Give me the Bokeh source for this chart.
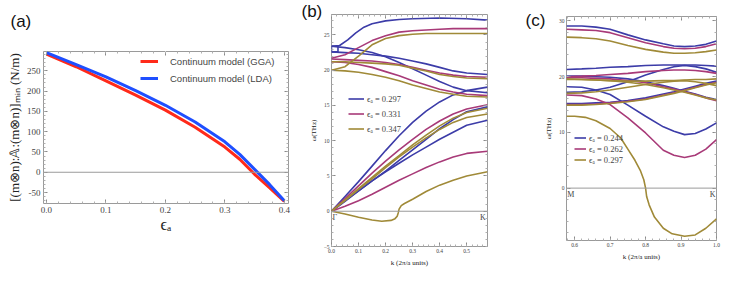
from bokeh.plotting import figure
from bokeh.models import (Range1d, LinearAxis, Label, Legend, LegendItem, Span, Title,
                          SingleIntervalTicker, FixedTicker, CustomJSTickFormatter,
                          NumeralTickFormatter)
from bokeh.layouts import row
from bokeh.embed import file_html
from bokeh.resources import INLINE

SERIF = "Liberation Serif"
SANS = "Liberation Sans"

# ---------------- panel (a) data ----------------
eps_a = [0.0, 0.05, 0.1, 0.15, 0.2, 0.25, 0.3, 0.325, 0.35, 0.375, 0.4]
gga = [291, 260, 225, 190, 153, 111, 62, 32, -5, -38, -72]
lda = [295, 265, 235, 201, 165, 124, 75, 44, 7, -30, -70]

# ---------------- panel (b) data (Gamma -> K) ----------------
kb = [0.0, 0.05, 0.1, 0.15, 0.2, 0.25, 0.3, 0.35, 0.4, 0.45, 0.5, 0.577]
kb_top = [0.0, 0.03, 0.06, 0.09, 0.12, 0.15, 0.2, 0.25, 0.3, 0.4, 0.5, 0.577]
b_blue_top = [23.4, 23.5, 24.3, 25.3, 26.1, 26.6, 27.0, 27.2, 27.3, 27.4, 27.3, 27.1]
b_box_k = [0.0, 0.024, 0.024, 0.0, 0.0]
b_box_w = [23.4, 23.4, 22.6, 22.6, 23.4]
b_blue = [
    [23.4, 23.2, 22.9, 22.5, 21.9, 21.1, 20.2, 19.3, 18.4, 17.6, 17.1, 16.8],
    [22.6, 22.5, 22.4, 22.2, 22.0, 21.7, 21.3, 20.9, 20.4, 19.9, 19.6, 19.4],
    [0.0, 2.1, 4.2, 6.4, 8.6, 10.7, 12.6, 14.2, 15.5, 16.5, 17.1, 17.6],
    [0.0, 1.4, 2.9, 4.3, 5.7, 7.2, 8.7, 10.2, 11.7, 13.0, 14.1, 14.8],
    [0.0, 1.5, 2.9, 4.3, 5.6, 6.8, 8.0, 9.1, 10.2, 11.2, 12.2, 12.9],
]
b_pink = [
    [21.7, 22.2, 23.2, 24.2, 24.9, 25.4, 25.6, 25.7, 25.8, 25.9, 25.9, 25.9],
    [21.6, 21.5, 21.4, 21.3, 21.1, 20.8, 20.4, 20.0, 19.6, 19.3, 19.1, 19.0],
    [21.2, 21.1, 20.8, 20.4, 19.8, 19.2, 18.5, 17.9, 17.3, 16.9, 16.6, 16.4],
    [0.0, 1.8, 3.6, 5.4, 7.1, 8.7, 10.2, 11.6, 12.8, 13.8, 14.5, 15.1],
    [0.0, 0.7, 1.5, 2.4, 3.4, 4.4, 5.3, 6.2, 7.0, 7.7, 8.2, 8.5],
]
b_olive = [
    [20.0, 20.5, 22.0, 23.6, 24.5, 24.9, 25.1, 25.2, 25.2, 25.2, 25.2, 25.2],
    [21.2, 21.2, 21.1, 21.0, 20.9, 20.7, 20.3, 19.9, 19.4, 19.1, 18.9, 18.8],
    [20.0, 19.9, 19.7, 19.4, 19.0, 18.5, 17.9, 17.4, 16.9, 16.6, 16.3, 16.2],
    [0.0, 1.6, 3.2, 4.8, 6.4, 7.9, 9.4, 10.8, 12.1, 13.2, 14.0, 14.6],
    [0.0, 1.5, 3.1, 4.6, 6.2, 7.7, 9.1, 10.4, 11.6, 12.6, 13.3, 13.8],
]
kb_soft = [0.0, 0.05, 0.1, 0.15, 0.186, 0.22, 0.235, 0.243, 0.247, 0.25, 0.258,
           0.27, 0.3, 0.35, 0.4, 0.45, 0.5, 0.55, 0.577]
b_olive_soft = [0.0, -0.4, -0.85, -1.25, -1.43, -1.3, -1.05, -0.7, -0.2, 0.3, 0.8,
                1.1, 1.7, 2.8, 3.7, 4.4, 5.0, 5.4, 5.6]
b_labels = ["ϵₐ = 0.297", "ϵₐ = 0.331", "ϵₐ = 0.347"]

# ---------------- panel (c) data (M -> K) ----------------
kc = [0.577, 0.62, 0.66, 0.7, 0.75, 0.8, 0.85, 0.88, 0.91, 0.94, 0.97, 1.0]
c_blue = [
    [29.1, 29.1, 28.9, 28.5, 27.5, 26.6, 25.9, 25.5, 25.4, 25.5, 25.8, 26.4],
    [21.3, 21.4, 21.5, 21.7, 21.8, 22.0, 22.1, 22.1, 22.1, 22.1, 22.0, 21.9],
    [17.2, 17.3, 17.6, 18.1, 19.1, 20.3, 21.3, 21.8, 22.0, 21.8, 21.4, 20.8],
    [18.2, 18.1, 17.6, 16.8, 14.9, 12.9, 11.0, 10.2, 9.6, 9.8, 10.6, 11.7],
    [20.1, 20.1, 20.0, 19.9, 19.6, 19.1, 18.4, 17.9, 17.4, 16.9, 16.3, 15.9],
    [15.2, 15.2, 15.3, 15.4, 15.7, 16.2, 16.9, 17.3, 17.8, 18.3, 18.8, 19.2],
]
c_pink = [
    [28.5, 28.4, 28.3, 27.9, 27.0, 26.1, 25.4, 25.1, 25.0, 25.1, 25.4, 25.9],
    [20.0, 20.1, 20.2, 20.4, 20.6, 20.9, 21.1, 21.2, 21.2, 21.1, 20.9, 20.6],
    [16.7, 16.6, 16.0, 15.0, 12.6, 9.9, 6.8, 5.9, 5.5, 5.9, 7.0, 8.7],
    [19.8, 19.8, 19.7, 19.6, 19.3, 18.9, 18.2, 17.8, 17.3, 16.8, 16.2, 15.7],
    [15.0, 15.0, 15.1, 15.3, 15.6, 16.0, 16.7, 17.1, 17.6, 18.1, 18.6, 19.0],
]
c_olive = [
    [27.1, 27.0, 26.8, 26.4, 25.6, 24.9, 24.4, 24.2, 24.2, 24.3, 24.5, 24.8],
    [19.6, 19.5, 19.4, 19.3, 19.2, 19.2, 19.3, 19.3, 19.4, 19.5, 19.5, 19.6],
    [17.0, 17.1, 17.3, 17.6, 18.1, 18.6, 19.0, 19.2, 19.3, 19.1, 18.8, 18.4],
    [19.5, 19.5, 19.4, 19.3, 19.0, 18.6, 18.0, 17.6, 17.2, 16.7, 16.2, 15.8],
    [14.9, 14.9, 15.0, 15.2, 15.5, 15.9, 16.6, 17.0, 17.5, 18.0, 18.5, 18.9],
]
kc_soft = [0.577, 0.6, 0.63, 0.66, 0.7, 0.73, 0.75, 0.77, 0.785, 0.795, 0.8, 0.803,
           0.81, 0.825, 0.85, 0.875, 0.91, 0.94, 0.97, 1.0]
c_olive_soft = [12.9, 12.9, 12.7, 12.1, 10.7, 9.0, 7.0, 5.0, 3.2, 1.5, 0.0, -1.5,
                -3.0, -5.2, -7.2, -8.2, -8.65, -8.4, -7.2, -5.5]
c_labels = ["ϵₐ = 0.244", "ϵₐ = 0.262", "ϵₐ = 0.297"]

RED, BLUE = "#ff2a1a", "#1f4fff"
C_BLUE, C_PINK, C_OLIVE = "#3c3ca8", "#a83a78", "#a08a38"
GRAY = "#9a9a9a"
H = 280


def make_fig(width, xr, yr, borders):
    l, r, t, b = borders
    p = figure(width=width, height=H, x_range=Range1d(*xr), y_range=Range1d(*yr),
               output_backend="svg", toolbar_location=None,
               min_border_left=l, min_border_right=r, min_border_top=t, min_border_bottom=b)
    p.frame_align = False
    p.grid.visible = False
    p.outline_line_color = GRAY
    p.outline_line_width = 1
    return p


def frame_ticks(p, xint, yint, nx, ny, fsize, standoff):
    xax = p.xaxis[0]
    yax = p.yaxis[0]
    xax.ticker = SingleIntervalTicker(interval=xint, num_minor_ticks=nx)
    yax.ticker = SingleIntervalTicker(interval=yint, num_minor_ticks=ny)
    xax.formatter = NumeralTickFormatter(format="0.0")
    right = LinearAxis(ticker=SingleIntervalTicker(interval=yint, num_minor_ticks=ny),
                       formatter=CustomJSTickFormatter(code="return ''"))
    above = LinearAxis(ticker=SingleIntervalTicker(interval=xint, num_minor_ticks=nx),
                       formatter=CustomJSTickFormatter(code="return ''"))
    p.add_layout(right, "right")
    p.add_layout(above, "above")
    for ax in [xax, yax, right, above]:
        ax.axis_line_color = None
        ax.major_tick_in = 4
        ax.major_tick_out = 0
        ax.minor_tick_in = 2
        ax.minor_tick_out = 0
        ax.major_tick_line_color = "#8a8a8a"
        ax.minor_tick_line_color = "#b0b0b0"
    for ax in [right, above]:
        ax.major_label_text_font_size = "0px"
        ax.major_label_standoff = 0
    for ax in [xax, yax]:
        ax.major_label_text_font = SERIF
        ax.major_label_text_font_size = fsize
        ax.major_label_text_color = "#444444"
        ax.major_label_standoff = standoff
        ax.axis_label_text_font = SERIF
        ax.axis_label_text_font_style = "normal"
        ax.axis_label_text_color = "#222222"
    return xax, yax


def top_spacer(p, gap, at):
    # invisible (white) outward tick that only reserves room above the frame
    sp = LinearAxis(ticker=FixedTicker(ticks=[at], minor_ticks=[]),
                    formatter=CustomJSTickFormatter(code="return ''"))
    sp.axis_line_color = None
    sp.major_tick_in = 0
    sp.major_tick_out = gap
    sp.major_tick_line_color = "#ffffff"
    sp.minor_tick_in = 0
    sp.minor_tick_out = 0
    sp.major_label_text_font_size = "0px"
    sp.major_label_standoff = 0
    p.add_layout(sp, "above")


def panel_tag(p, text, offset, standoff):
    p.add_layout(Title(text=text, align="left", offset=offset, standoff=standoff,
                       vertical_align="bottom", text_font=SANS, text_font_size="17px",
                       text_font_style="normal", text_color="#111111"), "above")


# ================= (a) =================
pa = make_fig(300, (-0.005, 0.407), (-77, 297.6), (43, 12, 51, H - 203))
xa, ya = frame_ticks(pa, 0.1, 50, 5, 5, "9px", 3)
ya.formatter = NumeralTickFormatter(format="0")
ya.axis_label = "[(m⊗n):𝔸:(m⊗n)]ₘᵢₙ (N/m)"
ya.axis_label_text_font_size = "13px"
ya.axis_label_standoff = 2
xa.axis_label = "ϵₐ"
xa.axis_label_text_font_size = "16px"
xa.axis_label_standoff = 0
pa.add_layout(Span(location=0, dimension="width", line_color=GRAY, line_width=1))
ra = pa.line(eps_a, gga, line_color=RED, line_width=3)
rb = pa.line(eps_a, lda, line_color=BLUE, line_width=3)
leg_a = Legend(items=[LegendItem(label="Continuum model (GGA)", renderers=[ra]),
                      LegendItem(label="Continuum model (LDA)", renderers=[rb])],
               location=(97, 117), padding=0, margin=0, spacing=1,
               glyph_width=18, glyph_height=16, label_height=16, label_standoff=12,
               label_text_font=SANS, label_text_font_size="9.5px",
               background_fill_alpha=0, border_line_color=None)
pa.add_layout(leg_a)
top_spacer(pa, 20, 0.2)
panel_tag(pa, "(a)", -33, 2)

# ================= (b) =================
pb = make_fig(225, (0.0, 0.577), (-5.0, 27.9), (31, 38, 14, H - 246))
xb, yb = frame_ticks(pb, 0.1, 5, 5, 5, "5.5px", 2)
yb.axis_label = "ω(THz)"
xb.axis_label = "k (2π/a units)"
for ax in (xb, yb):
    ax.axis_label_text_font_size = "7px"
    ax.axis_label_standoff = 3
pb.add_layout(Span(location=0, dimension="width", line_color=GRAY, line_width=1))
lw = 1.6
rs_b = {}
rs_b[C_BLUE] = pb.line(kb_top, b_blue_top, line_color=C_BLUE, line_width=lw)
pb.line(b_box_k, b_box_w, line_color=C_BLUE, line_width=lw)
for ys in b_blue:
    pb.line(kb, ys, line_color=C_BLUE, line_width=lw)
for i, ys in enumerate(b_pink):
    r = pb.line(kb, ys, line_color=C_PINK, line_width=lw)
    if i == 0:
        rs_b[C_PINK] = r
for i, ys in enumerate(b_olive):
    r = pb.line(kb, ys, line_color=C_OLIVE, line_width=lw)
    if i == 0:
        rs_b[C_OLIVE] = r
pb.line(kb_soft, b_olive_soft, line_color=C_OLIVE, line_width=lw)
leg_b = Legend(items=[LegendItem(label=b_labels[0], renderers=[rs_b[C_BLUE]]),
                      LegendItem(label=b_labels[1], renderers=[rs_b[C_PINK]]),
                      LegendItem(label=b_labels[2], renderers=[rs_b[C_OLIVE]])],
               location=(17, 110), padding=0, margin=0, spacing=0,
               glyph_width=16, glyph_height=15, label_height=15, label_standoff=3,
               label_text_font=SERIF, label_text_font_size="8.5px",
               background_fill_alpha=0, border_line_color=None)
pb.add_layout(leg_b)
pb.add_layout(Label(x=0.004, y=-0.3, text="Γ", text_font=SERIF, text_font_size="8px",
                    text_baseline="top", text_align="left"))
pb.add_layout(Label(x=0.571, y=-0.3, text="K", text_font=SERIF, text_font_size="8px",
                    text_baseline="top", text_align="right"))
panel_tag(pb, "(b)", -30, -12)

# ================= (c) =================
pc = make_fig(220, (0.577, 1.0), (-9.4, 30.8), (41, 29, 16, H - 240))
xc, yc = frame_ticks(pc, 0.1, 10, 5, 5, "5.5px", 2)
yc.axis_label = "ω(THz)"
xc.axis_label = "k (2π/a units)"
for ax in (xc, yc):
    ax.axis_label_text_font_size = "7px"
    ax.axis_label_standoff = 3
pc.add_layout(Span(location=0, dimension="width", line_color=GRAY, line_width=1))
rs_c = {}
for i, ys in enumerate(c_blue):
    r = pc.line(kc, ys, line_color=C_BLUE, line_width=lw)
    if i == 0:
        rs_c[C_BLUE] = r
for i, ys in enumerate(c_pink):
    r = pc.line(kc, ys, line_color=C_PINK, line_width=lw)
    if i == 0:
        rs_c[C_PINK] = r
for i, ys in enumerate(c_olive):
    r = pc.line(kc, ys, line_color=C_OLIVE, line_width=lw)
    if i == 0:
        rs_c[C_OLIVE] = r
pc.line(kc_soft, c_olive_soft, line_color=C_OLIVE, line_width=lw)
leg_c = Legend(items=[LegendItem(label=c_labels[0], renderers=[rs_c[C_BLUE]]),
                      LegendItem(label=c_labels[1], renderers=[rs_c[C_PINK]]),
                      LegendItem(label=c_labels[2], renderers=[rs_c[C_OLIVE]])],
               location=(8, 75), padding=0, margin=0, spacing=0,
               glyph_width=12, glyph_height=11, label_height=11, label_standoff=3,
               label_text_font=SERIF, label_text_font_size="8.5px",
               background_fill_alpha=0, border_line_color=None)
pc.add_layout(leg_c)
pc.add_layout(Label(x=0.579, y=-0.3, text="M", text_font=SERIF, text_font_size="8px",
                    text_baseline="top", text_align="left"))
pc.add_layout(Label(x=0.997, y=-0.3, text="K", text_font=SERIF, text_font_size="8px",
                    text_baseline="top", text_align="right"))
panel_tag(pc, "(c)", -41, -26)

layout = row(pa, pb, pc)
open("out.html", "w").write(file_html(layout, INLINE))
